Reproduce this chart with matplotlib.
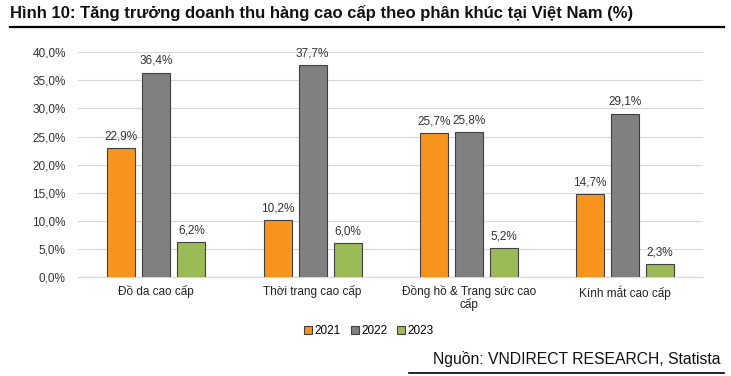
import matplotlib.pyplot as plt
import numpy as np

plt.rcParams['font.family'] = ['Liberation Sans', 'DejaVu Sans']

categories = ["Đồ da cao cấp", "Thời trang cao cấp", "Đồng hồ & Trang sức cao\ncấp", "Kính mắt cao cấp"]
years = ["2021", "2022", "2023"]
v2021 = [22.9, 10.2, 25.7, 14.7]
v2022 = [36.4, 37.7, 25.8, 29.1]
v2023 = [6.2, 6.0, 5.2, 2.3]
colors = ["#F7941D", "#808080", "#9BBB59"]

fig = plt.figure(figsize=(7.31, 3.76), dpi=100)
ax = fig.add_axes([0.107, 0.263, 0.855, 0.598])

x = np.arange(len(categories))
width = 0.18
step = 0.224
for i, (vals, lab, c) in enumerate(zip([v2021, v2022, v2023], years, colors)):
    pos = x + (i - 1) * step
    bars = ax.bar(pos, vals, width, color=c, edgecolor="#404040", linewidth=0.8, label=lab, zorder=3)
    for b, v in zip(bars, vals):
        ax.text(b.get_x() + b.get_width() / 2, v + 1.0, f"{v:.1f}%".replace(".", ","),
                ha="center", va="bottom", fontsize=8.5, color="#333333")

ax.set_xlim(-0.5, len(categories) - 0.5)
ax.set_ylim(0, 40)
ax.set_yticks(np.arange(0, 41, 5))
ax.set_yticklabels([f"{t:.1f}%".replace(".", ",") for t in np.arange(0, 41, 5)])
ax.set_xticks(x)
ax.set_xticklabels(categories, fontsize=8.5, color="#222222", linespacing=0.95)
ax.tick_params(axis="y", labelsize=8.5, colors="#333333", length=0, pad=9)
ax.tick_params(axis="x", length=0, pad=6)
ax.grid(axis="y", color="#D9D9D9", linewidth=0.8, zorder=0)
for s in ["top", "right", "left"]:
    ax.spines[s].set_visible(False)
ax.spines["bottom"].set_color("#D9D9D9")

ax.legend(loc="upper center", bbox_to_anchor=(0.465, -0.165), ncol=3, frameon=False,
          fontsize=8.5, handlelength=0.7, handleheight=0.7, handletextpad=0.2, columnspacing=0.8)

fig.text(0.014, 0.965, "Hình 10: Tăng trưởng doanh thu hàng cao cấp theo phân khúc tại Việt Nam (%)",
         fontsize=12, fontweight="bold", ha="left", va="center", color="#111111")
fig.add_artist(plt.Line2D([0.014, 0.99], [0.928, 0.928], color="black", linewidth=1.6))
fig.text(0.985, 0.045, "Nguồn: VNDIRECT RESEARCH, Statista", fontsize=11.3, ha="right", va="center",
         color="#111111")
fig.add_artist(plt.Line2D([0.56, 0.99], [0.008, 0.008], color="black", linewidth=1.2))

fig.savefig("out.png", dpi=100)
